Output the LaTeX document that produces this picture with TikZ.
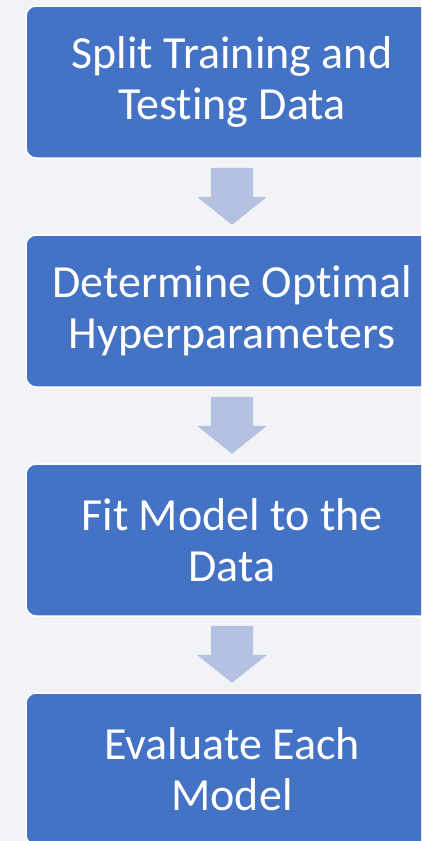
\documentclass[tikz,border=0pt]{standalone}
\usepackage{fontspec}
\setmainfont{Carlito}[Ligatures=NoCommon]
\definecolor{boxblue}{HTML}{4472C4}
\definecolor{pagebg}{HTML}{F2F3F7}
\definecolor{flowblue}{HTML}{B4C1E1}
\begin{document}
\begin{tikzpicture}[x=1pt, y=-1pt]
\tikzstyle{stage}=[draw=white, line width=1.5pt, fill=boxblue, rounded corners=10pt,
    minimum width=412pt, minimum height=152pt, text=white, align=center,
    font=\fontsize{46}{51}\selectfont]
\useasboundingbox (0,0) rectangle (421,841);
\clip (0,0) rectangle (421,841);
\fill [pagebg] (0,0) rectangle (421,841);
    \node [stage] (s) at (232,82) {Split Training and\\Testing Data};
    \node [stage] (d) at (232,311) {Determine Optimal\\Hyperparameters};
    \node [stage] (f) at (232,540) {Fit Model to the\\Data};
    \node [stage] (e) at (232,769) {Evaluate Each\\Model};
% block arrows between the stages
\foreach \a in {s,d,f}
    \fill [flowblue] (\a.south) ++(-21,9) -- ++(42,0) -- ++(0,29) -- ++(14,0)
        -- ++(-35,28) -- ++(-35,-28) -- ++(14,0) -- cycle;
\end{tikzpicture}
\end{document}
